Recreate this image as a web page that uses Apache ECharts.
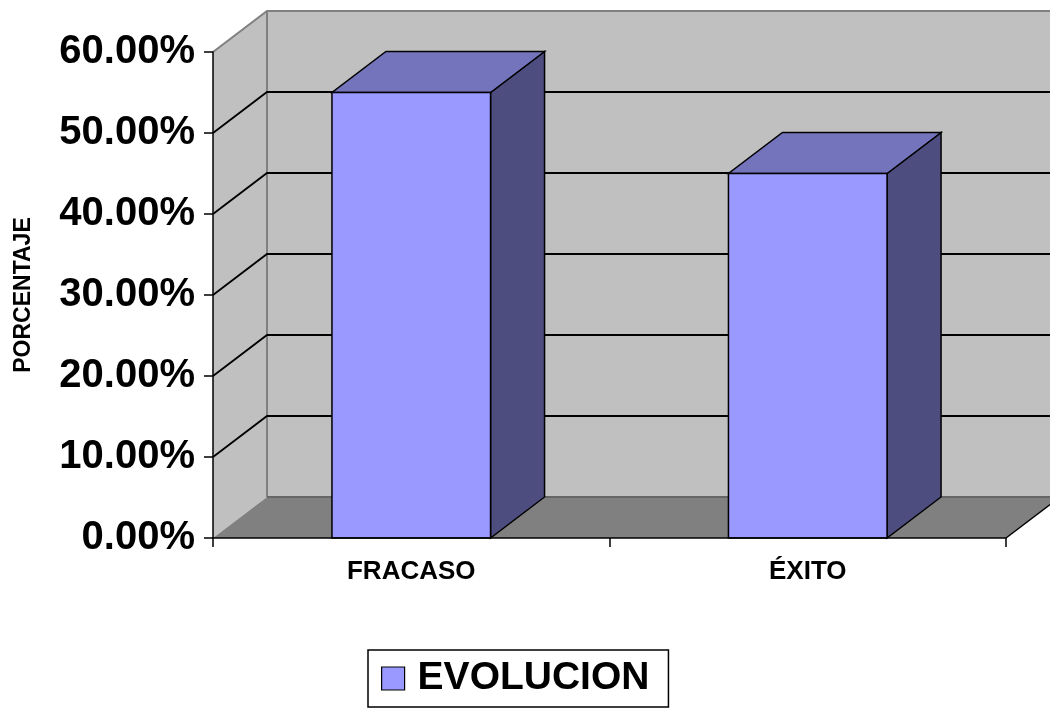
<!DOCTYPE html>
<html>
<head>
<meta charset="utf-8">
<script src="https://cdn.jsdelivr.net/npm/echarts@6/dist/echarts.min.js"></script>
<style>
  html, body { margin: 0; padding: 0; background: #fff; }
  #chart { width: 1050px; height: 709px; }
</style>
</head>
<body>
<div id="chart"></div>
<script>
// datos del grafico
var categorias = ['FRACASO', 'ÉXITO'];
var evolucion = [0.55, 0.45];
var marcasY = [0, 0.1, 0.2, 0.3, 0.4, 0.5, 0.6];

// profundidad 3D (pixeles)
var DX = 54;
var DY = -41;
var FONT = '"Liberation Sans", Arial, sans-serif';

var myChart = echarts.init(document.getElementById('chart'));

// paredes y piso
function renderParedes(params, api) {
  var cs = params.coordSys;
  var y0 = api.coord([0, 0])[1];
  var yTop = api.coord([0, 0.6])[1];
  var xL = cs.x, xR = cs.x + cs.width;
  return {
    type: 'group',
    children: [
      // pared del fondo
      { type: 'rect', shape: { x: xL + DX, y: yTop + DY, width: xR - xL + 60, height: y0 - yTop },
        style: { fill: '#c0c0c0' } },
      // pared izquierda
      { type: 'polygon', shape: { points: [[xL, y0], [xL, yTop], [xL + DX, yTop + DY], [xL + DX, y0 + DY]] },
        style: { fill: '#c0c0c0' } },
      // piso
      { type: 'polygon', shape: { points: [[xL, y0], [xR, y0], [xR + DX, y0 + DY], [xL + DX, y0 + DY]] },
        style: { fill: '#808080' } },
      // bordes grises
      { type: 'polyline', shape: { points: [[xL, yTop], [xL + DX, yTop + DY], [xR + DX + 60, yTop + DY]] },
        style: { stroke: '#808080', lineWidth: 2, fill: null } },
      { type: 'line', shape: { x1: xL + DX, y1: yTop + DY, x2: xL + DX, y2: y0 + DY },
        style: { stroke: '#808080', lineWidth: 2 } },
      { type: 'line', shape: { x1: xL + DX, y1: y0 + DY, x2: xR + DX + 60, y2: y0 + DY },
        style: { stroke: '#666666', lineWidth: 2 } },
      // borde derecho del piso
      { type: 'line', shape: { x1: xR, y1: y0, x2: xR + DX, y2: y0 + DY },
        style: { stroke: '#000', lineWidth: 1.5 } }
    ]
  };
}

// lineas de division
function renderLineas(params, api) {
  var v = api.value(1);
  if (v <= 0 || v >= 0.6) return;
  var cs = params.coordSys;
  var y = api.coord([0, v])[1];
  var xL = cs.x, xR = cs.x + cs.width;
  return {
    type: 'polyline',
    shape: { points: [[xL, y], [xL + DX, y + DY], [xR + DX + 60, y + DY]] },
    style: { stroke: '#000', lineWidth: 1.8, fill: null }
  };
}

// barras 3D
function renderBarras(params, api) {
  var top = api.coord([api.value(0), api.value(1)]);
  var base = api.coord([api.value(0), 0]);
  var w = api.size([1, 0])[0] * 0.4;
  var x0 = top[0] - w / 2, x1 = top[0] + w / 2;
  var yt = top[1], yb = base[1];
  var borde = { stroke: '#000', lineWidth: 1.5, lineJoin: 'miter' };
  return {
    type: 'group',
    children: [
      { type: 'polygon', shape: { points: [[x1, yt], [x1 + DX, yt + DY], [x1 + DX, yb + DY], [x1, yb]] },
        style: Object.assign({ fill: '#4d4d80' }, borde) },
      { type: 'polygon', shape: { points: [[x0, yt], [x1, yt], [x1 + DX, yt + DY], [x0 + DX, yt + DY]] },
        style: Object.assign({ fill: '#7474bd' }, borde) },
      { type: 'rect', shape: { x: x0, y: yt, width: w, height: yb - yt },
        style: Object.assign({ fill: '#9999ff' }, borde) }
    ]
  };
}

myChart.setOption({
  animation: false,
  grid: { left: 213, right: 44, top: 52, bottom: 171, containLabel: false, outerBoundsMode: 'none' },
  legend: {
    data: ['EVOLUCION'],
    left: 368,
    top: 650,
    orient: 'horizontal',
    icon: 'rect',
    itemWidth: 23,
    itemHeight: 23,
    itemGap: 0,
    padding: [9, 19, 9, 13],
    borderColor: '#000',
    borderWidth: 1.5,
    borderRadius: 0,
    itemStyle: { borderColor: '#000', borderWidth: 1.2 },
    textStyle: { fontFamily: FONT, fontWeight: 'bold', fontSize: 39, color: '#000', padding: [0, 0, 0, 8], lineHeight: 38 }
  },
  xAxis: {
    type: 'category',
    data: categorias,
    boundaryGap: true,
    z: 10,
    axisLine: { lineStyle: { color: '#000', width: 1.5 } },
    axisTick: { show: true, length: 9, alignWithLabel: false, lineStyle: { color: '#000', width: 1.5 } },
    axisLabel: { margin: 21, fontFamily: FONT, fontWeight: 'bold', fontSize: 26, color: '#000' },
    splitLine: { show: false }
  },
  yAxis: {
    type: 'value',
    min: 0,
    max: 0.6,
    interval: 0.1,
    z: 10,
    name: 'PORCENTAJE',
    nameLocation: 'middle',
    nameRotate: 90,
    nameGap: 178,
    nameTextStyle: { fontFamily: FONT, fontWeight: 'bold', fontSize: 23, color: '#000' },
    axisLine: { show: true, lineStyle: { color: '#000', width: 1.5 } },
    axisTick: { show: true, length: 9, lineStyle: { color: '#000', width: 1.5 } },
    axisLabel: {
      margin: 18,
      fontFamily: FONT, fontWeight: 'bold', fontSize: 40, color: '#000',
      formatter: function (v) { return (v * 100).toFixed(2) + '%'; }
    },
    splitLine: { show: false }
  },
  series: [
    {
      name: 'paredes',
      type: 'custom',
      z: 1,
      silent: true,
      renderItem: renderParedes,
      data: [[0, 0]]
    },
    {
      name: 'lineas',
      type: 'custom',
      z: 2,
      silent: true,
      renderItem: renderLineas,
      data: marcasY.map(function (t) { return [0, t]; })
    },
    {
      name: 'EVOLUCION',
      type: 'custom',
      z: 5,
      itemStyle: { color: '#9999ff' },
      renderItem: renderBarras,
      data: evolucion.map(function (v, i) { return [i, v]; })
    }
  ]
});
</script>
</body>
</html>
